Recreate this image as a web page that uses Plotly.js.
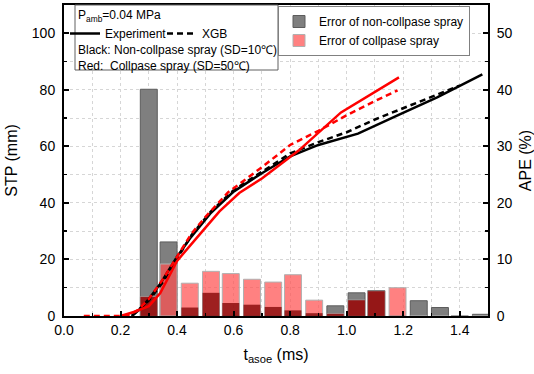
<!DOCTYPE html>
<html>
<head>
<meta charset="utf-8">
<script src="https://cdn.plot.ly/plotly-3.0.1.min.js"></script>
<style>html,body{margin:0;padding:0;background:#fff;}#chart{width:534px;height:374px;}</style>
</head>
<body>
<div id="chart"></div>
<script>
// ---- data ----
const expNonX = [0.24, 0.27, 0.30, 0.34, 0.40, 0.45, 0.52, 0.60, 0.70, 0.80, 0.90, 1.04, 1.18, 1.32, 1.48];
const expNonY = [0, 2.5, 6, 11.3, 21, 28, 36.5, 44, 50.5, 56.5, 60.5, 64.5, 71, 77.3, 85.5];
const xgbNonX = [0.24, 0.30, 0.35, 0.40, 0.45, 0.52, 0.60, 0.70, 0.80, 0.90, 1.00, 1.10, 1.20, 1.30, 1.40];
const xgbNonY = [0, 5.5, 12, 20.5, 28.5, 37, 44.5, 51, 57.5, 61.5, 65, 69.5, 73.5, 77.5, 81.5];
const expColX = [0.20, 0.25, 0.30, 0.34, 0.40, 0.45, 0.49, 0.55, 0.62, 0.70, 0.83, 0.98, 1.11, 1.185];
const expColY = [0, 1.5, 3.5, 8, 19.5, 25.5, 30, 37, 43.5, 48.6, 58.5, 72, 79.8, 84.4];
const xgbColX = [0.07, 0.12, 0.17, 0.22, 0.26, 0.30, 0.35, 0.40, 0.45, 0.50, 0.58, 0.70, 0.80, 0.90, 1.00, 1.10, 1.18];
const xgbColY = [0, 0, 0, 0, 2, 6, 13, 21, 29, 35, 43.7, 52.6, 60.5, 65.5, 71, 76, 79.8];

const barX = [0.30, 0.37, 0.445, 0.52, 0.59, 0.665, 0.74, 0.81, 0.885, 0.96, 1.035, 1.105, 1.18, 1.255, 1.33, 1.40, 1.475];
const apeNonCollapse = [40.1, 13.1, 0, 0, 0, 0, 0, 0, 0, 1.8, 4.1, 4.5, 0, 2.7, 1.5, 0, 0.3];
const apeCollapse = [3.4, 9.2, 5.8, 7.9, 7.5, 6.5, 6.0, 7.3, 2.8, 0.4, 2.8, 4.4, 5.0, 0, 0, 0, 0];
const apeOverlap = [3.4, 0, 1.5, 4.1, 2.3, 2.0, 1.6, 1.0, 0.5, 0.4, 2.8, 4.4, 0, 0, 0, 0, 0];

const xTickVals = [0, 0.2, 0.4, 0.6, 0.8, 1.0, 1.2, 1.4];

const FONT = 'Arial, "Liberation Sans", sans-serif';
const L = 64, R = 488, T = 5, B = 316;
const px = v => (v - L) / (R - L);
const py = v => (B - v) / (B - T);

const traces = [
  {type: 'bar', x: barX, y: apeNonCollapse, width: 0.06, yaxis: 'y', name: 'Error of non-collpase spray',
   marker: {color: '#7f7f7f', line: {color: '#5c5c5c', width: 1}}, legend: 'legend'},
  {type: 'bar', x: barX, y: apeCollapse, width: 0.06, yaxis: 'y', name: 'Error of collpase spray',
   marker: {color: 'rgba(255,80,80,0.72)', line: {color: '#b0b0b0', width: 1}}, legend: 'legend'},
  {type: 'bar', x: barX, y: apeOverlap, width: 0.06, yaxis: 'y', showlegend: false,
   marker: {color: 'rgba(125,0,0,0.75)', line: {width: 0}}},
  {type: 'scatter', mode: 'lines', x: expNonX, y: expNonY, yaxis: 'y2', name: 'Experiment', legend: 'legend2',
   line: {color: '#000', width: 2.5}},
  {type: 'scatter', mode: 'lines', x: xgbNonX, y: xgbNonY, yaxis: 'y2', name: 'XGB', legend: 'legend2',
   line: {color: '#000', width: 2.5, dash: '6px,4px'}},
  {type: 'scatter', mode: 'lines', x: expColX, y: expColY, yaxis: 'y2', showlegend: false,
   line: {color: '#ff0000', width: 2.5}},
  {type: 'scatter', mode: 'lines', x: xgbColX, y: xgbColY, yaxis: 'y2', showlegend: false,
   line: {color: '#ff0000', width: 2.5, dash: '6px,4px'}}
];

const layout = {
  width: 534, height: 374,
  margin: {l: L, r: 534 - R, t: T, b: 374 - B, pad: 0},
  paper_bgcolor: '#fff', plot_bgcolor: '#fff',
  font: {family: FONT, size: 14, color: '#000'},
  barmode: 'overlay',
  xaxis: {
    range: [0, 1.5], tickvals: xTickVals, ticktext: xTickVals.map(v => v.toFixed(1)),
    ticks: 'inside', ticklen: 5, tickwidth: 2, tickcolor: '#000',
    showline: true, linewidth: 2, linecolor: '#000', mirror: true,
    showgrid: true, gridcolor: '#d6d6d6', griddash: '3px,3px', gridwidth: 1,
    minor: {dtick: 0.1, ticks: 'inside', ticklen: 3, tickwidth: 1.5, tickcolor: '#000', showgrid: true, gridcolor: '#d6d6d6', griddash: '3px,3px'},
    zeroline: false,
    title: {text: 't<sub>asoe</sub> (ms)', font: {size: 16}, standoff: 12},
    tickfont: {size: 14}
  },
  yaxis: {
    side: 'right', range: [0, 55], dtick: 10,
    ticks: 'inside', ticklen: 5, tickwidth: 2, tickcolor: '#000',
    showline: true, linewidth: 2, linecolor: '#000',
    showgrid: true, gridcolor: '#d6d6d6', griddash: '3px,3px',
    minor: {dtick: 5, ticks: 'inside', ticklen: 3, tickwidth: 1.5, tickcolor: '#000', showgrid: true, gridcolor: '#d6d6d6', griddash: '3px,3px'},
    zeroline: false,
    title: {text: 'APE (%)', font: {size: 16}, standoff: 8},
    ticklabelstandoff: 4
  },
  yaxis2: {
    overlaying: 'y', side: 'left', range: [0, 110], dtick: 20,
    ticks: 'inside', ticklen: 5, tickwidth: 2, tickcolor: '#000',
    showline: true, linewidth: 2, linecolor: '#000',
    showgrid: false,
    minor: {dtick: 10, ticks: 'inside', ticklen: 3, tickwidth: 1.5, tickcolor: '#000'},
    zeroline: false,
    title: {text: 'STP (mm)', font: {size: 16}, standoff: 10},
    ticklabelstandoff: 4
  },
  legend: {
    x: px(278), xanchor: 'left', y: py(6), yanchor: 'top',
    bgcolor: '#fff', bordercolor: '#808080', borderwidth: 1,
    font: {size: 12}, tracegroupgap: 0, traceorder: 'normal'
  },
  legend2: {
    orientation: 'h', x: px(65), xanchor: 'left', y: py(19), yanchor: 'top',
    bgcolor: 'rgba(0,0,0,0)', borderwidth: 0, font: {size: 12},
    entrywidth: 52, entrywidthmode: 'pixels'
  },
  shapes: [
    {type: 'rect', xref: 'paper', yref: 'paper', x0: px(75), x1: px(278), y0: py(70), y1: py(5),
     line: {color: '#606060', width: 1}, fillcolor: '#fff', layer: 'above'}
  ],
  annotations: [
    {xref: 'paper', yref: 'paper', x: px(76), y: py(16), xanchor: 'left', yanchor: 'middle', showarrow: false,
     text: 'P<sub>amb</sub>=0.04 MPa', font: {size: 12}},
    {xref: 'paper', yref: 'paper', x: px(76), y: py(50), xanchor: 'left', yanchor: 'middle', showarrow: false,
     text: 'Black: Non-collpase spray (SD=10℃)', font: {size: 12}},
    {xref: 'paper', yref: 'paper', x: px(76), y: py(66), xanchor: 'left', yanchor: 'middle', showarrow: false,
     text: 'Red:  Collpase spray (SD=50℃)', font: {size: 12}}
  ],
  showlegend: true
};

Plotly.newPlot('chart', traces, layout, {displayModeBar: false, staticPlot: true});
</script>
</body>
</html>
